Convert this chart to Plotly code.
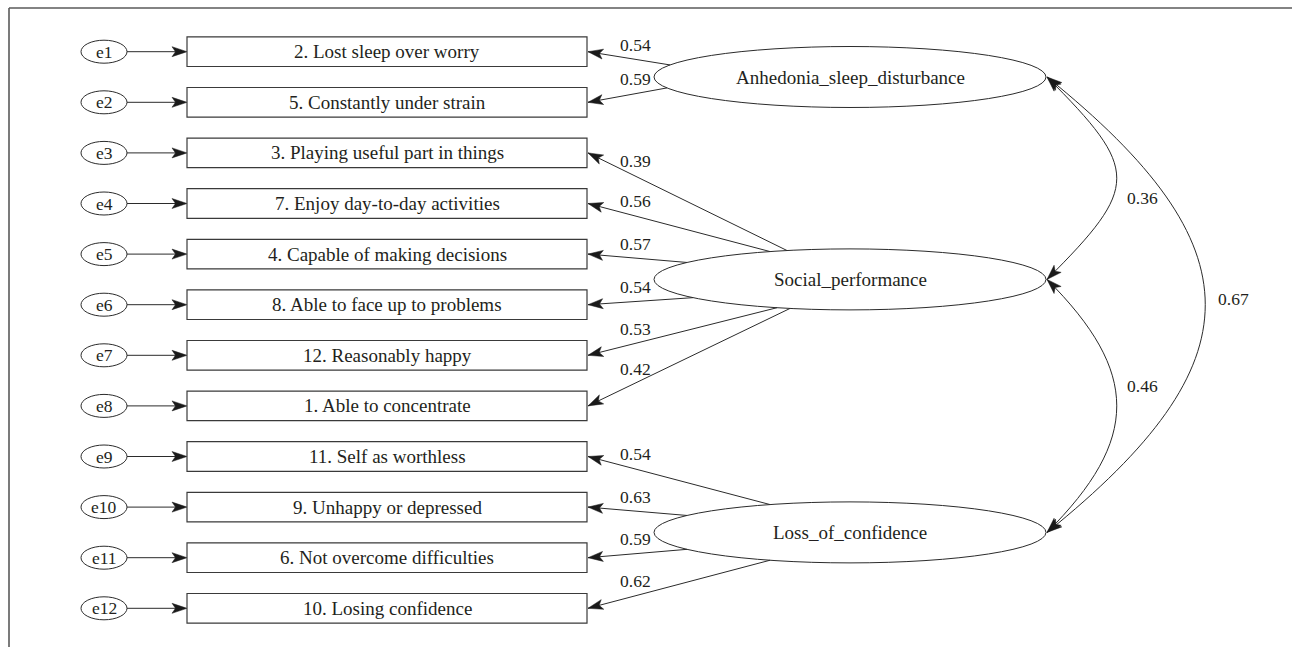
import math
import plotly.graph_objects as go

# ---------------- data ----------------
errors = ["e1", "e2", "e3", "e4", "e5", "e6", "e7", "e8", "e9", "e10", "e11", "e12"]
items = [
    "2. Lost sleep over worry",
    "5. Constantly under strain",
    "3. Playing useful part in things",
    "7. Enjoy day-to-day activities",
    "4. Capable of making decisions",
    "8. Able to face up to problems",
    "12. Reasonably happy",
    "1. Able to concentrate",
    "11. Self as worthless",
    "9. Unhappy or depressed",
    "6. Not overcome difficulties",
    "10. Losing confidence",
]
item_factor = [0, 0, 1, 1, 1, 1, 1, 1, 2, 2, 2, 2]
loadings = [0.54, 0.59, 0.39, 0.56, 0.57, 0.54, 0.53, 0.42, 0.54, 0.63, 0.59, 0.62]
factors = ["Anhedonia_sleep_disturbance", "Social_performance", "Loss_of_confidence"]
cov_from = [0, 1, 0]
cov_to = [1, 2, 2]
cov_values = [0.36, 0.46, 0.67]

# ---------------- layout / style ----------------
W, H = 1292, 647
ROW0, ROW_STEP = 51.7, 50.6
E_CX, E_RX, E_RY = 104, 23, 11.5
BOX_X0, BOX_X1, BOX_HH = 187, 587, 14.8
LAT_CX, LAT_RX, LAT_RY = 850, 196, 30.5
anchor_x = [670, 667, 787, 770, 687, 693, 777, 790, 770, 687, 687, 770]
LOAD_LABEL_X = 635
LOAD_LABEL_DY = 14.5
cov_bulge = [93, 93, 211]
cov_lift = [93, 93, 170]
cov_label_pos = [(1142, 198), (1142, 386), (1233, 299)]
HEAD_L, HEAD_W, HEAD_NOTCH = 15, 5, 3.5
LINE_C = "#2b2b2b"
TEXT_C = "#231f20"
FONT = "Liberation Serif"
ITEM_SIZE, LOAD_SIZE, ERR_SIZE = 19, 17.5, 17.5

fig = go.Figure()
fig.add_trace(go.Scatter(x=[], y=[], mode="markers", showlegend=False, hoverinfo="skip"))

shapes = []
annotations = []


def line(x0, y0, x1, y1, color=LINE_C, width=1):
    shapes.append(dict(type="line", xref="x", yref="y", x0=x0, y0=y0, x1=x1, y1=y1,
                       line=dict(color=color, width=width)))


def head(tx, ty, ux, uy):
    n = math.hypot(ux, uy)
    ux, uy = ux / n, uy / n
    px, py = -uy, ux
    bx, by = tx - HEAD_L * ux, ty - HEAD_L * uy
    nx, ny = tx - (HEAD_L - HEAD_NOTCH) * ux, ty - (HEAD_L - HEAD_NOTCH) * uy
    path = (f"M {tx:.2f},{ty:.2f} L {bx + HEAD_W * px:.2f},{by + HEAD_W * py:.2f} "
            f"L {nx:.2f},{ny:.2f} L {bx - HEAD_W * px:.2f},{by - HEAD_W * py:.2f} Z")
    shapes.append(dict(type="path", xref="x", yref="y", path=path,
                       fillcolor="#1a1a1a", line=dict(color="#1a1a1a", width=0.5)))


def text(x, y, s, size):
    annotations.append(dict(x=x, y=y, xref="x", yref="y", text=s, showarrow=False,
                            xanchor="center", yanchor="middle",
                            font=dict(family=FONT, size=size, color=TEXT_C)))


# frame (top and left rules)
line(9, 8, W, 8, color="#5a5a5a", width=1.6)
line(9, 8, 9, H, color="#5a5a5a", width=1.6)

row_y = [ROW0 + i * ROW_STEP for i in range(len(items))]
fac_y = []
for f in range(len(factors)):
    ys = [row_y[i] for i in range(len(items)) if item_factor[i] == f]
    fac_y.append(sum(ys) / len(ys))

# error terms and observed items
for i, (e, it) in enumerate(zip(errors, items)):
    y = row_y[i]
    shapes.append(dict(type="circle", xref="x", yref="y", x0=E_CX - E_RX, x1=E_CX + E_RX,
                       y0=y - E_RY, y1=y + E_RY, line=dict(color=LINE_C, width=1)))
    text(E_CX, y, e, ERR_SIZE)
    line(E_CX + E_RX, y, BOX_X0 - 3, y)
    head(BOX_X0, y, 1, 0)
    shapes.append(dict(type="rect", xref="x", yref="y", x0=BOX_X0, x1=BOX_X1,
                       y0=y - BOX_HH, y1=y + BOX_HH, line=dict(color="#3a3a3a", width=1.2)))
    text((BOX_X0 + BOX_X1) / 2, y, it, ITEM_SIZE)

# latent factors
for f, name in enumerate(factors):
    shapes.append(dict(type="circle", xref="x", yref="y", x0=LAT_CX - LAT_RX, x1=LAT_CX + LAT_RX,
                       y0=fac_y[f] - LAT_RY, y1=fac_y[f] + LAT_RY, line=dict(color=LINE_C, width=1)))
    text(LAT_CX, fac_y[f], name, ITEM_SIZE)

# loadings
for i, lam in enumerate(loadings):
    f = item_factor[i]
    ax = anchor_x[i]
    dy = LAT_RY * math.sqrt(max(0.0, 1 - ((ax - LAT_CX) / LAT_RX) ** 2))
    ay = fac_y[f] - dy if row_y[i] < fac_y[f] else fac_y[f] + dy
    tx, ty = BOX_X1 + 1, row_y[i]
    line(ax, ay, tx, ty)
    head(tx, ty, tx - ax, ty - ay)
    ly = ty + (LOAD_LABEL_X - tx) / (ax - tx) * (ay - ty) - LOAD_LABEL_DY
    text(LOAD_LABEL_X, ly, f"{lam:.2f}", LOAD_SIZE)

# covariances (curved double-headed)
x0 = LAT_CX + LAT_RX + 1
for k, v in enumerate(cov_values):
    y0, y1 = fac_y[cov_from[k]], fac_y[cov_to[k]]
    a, b = cov_bulge[k], cov_lift[k]
    p1 = (x0 + a, y0 + b)
    p2 = (x0 + a, y1 - b)
    path = f"M {x0},{y0:.2f} C {p1[0]},{p1[1]:.2f} {p2[0]},{p2[1]:.2f} {x0},{y1:.2f}"
    shapes.append(dict(type="path", xref="x", yref="y", path=path,
                       line=dict(color=LINE_C, width=1)))
    head(x0, y0, x0 - p1[0], y0 - p1[1])
    head(x0, y1, x0 - p2[0], y1 - p2[1])
    lx, lyy = cov_label_pos[k]
    text(lx, lyy, f"{v:.2f}", LOAD_SIZE)

fig.update_layout(
    width=W, height=H, autosize=False,
    margin=dict(l=0, r=0, t=0, b=0),
    paper_bgcolor="white", plot_bgcolor="white",
    xaxis=dict(range=[0, W], visible=False, fixedrange=True),
    yaxis=dict(range=[H, 0], visible=False, fixedrange=True),
    shapes=shapes, annotations=annotations, showlegend=False,
)

fig.write_html("out.html", config={"displayModeBar": False})

# remove the default page margin so the figure sits at the window origin
with open("out.html", "r", encoding="utf-8") as fh:
    html = fh.read()
html = html.replace("<head>", "<head><style>html,body{margin:0;padding:0;overflow:hidden;}</style>", 1)
with open("out.html", "w", encoding="utf-8") as fh:
    fh.write(html)
